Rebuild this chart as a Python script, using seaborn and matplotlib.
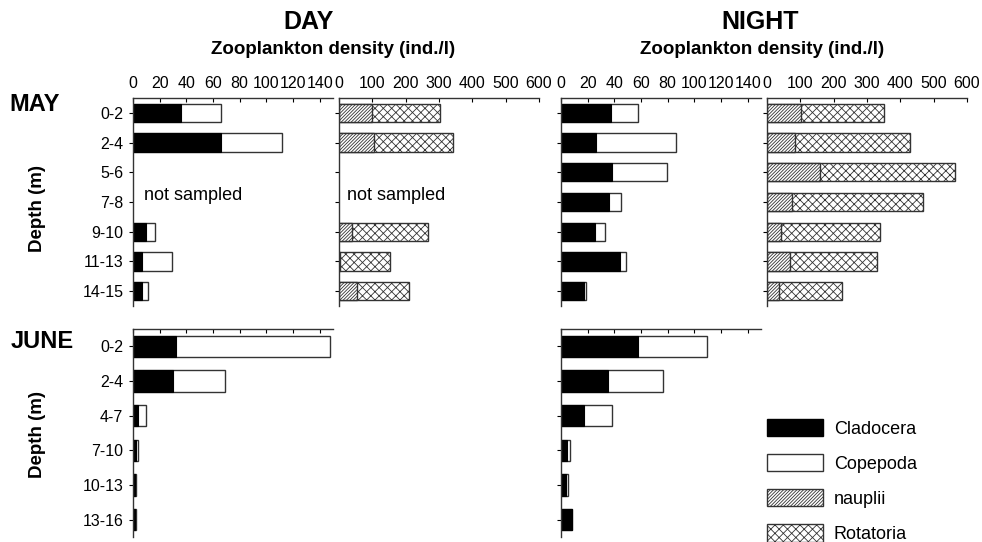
import numpy as np
import pandas as pd
import matplotlib
matplotlib.use("Agg")
import matplotlib.pyplot as plt
from matplotlib.patches import Patch
import seaborn as sns

nan = np.nan

# depth layers
depths_may = ['0-2', '2-4', '5-6', '7-8', '9-10', '11-13', '14-15']
depths_june = ['0-2', '2-4', '4-7', '7-10', '10-13', '13-16']

# MAY, day (5-6 and 7-8 not sampled)
may_day_clad = [36, 66, nan, nan, 9.5, 7, 7]
may_day_cop = [30, 46, nan, nan, 7, 22, 4]
may_day_naup = [100, 106, nan, nan, 40, 2, 55]
may_day_rot = [204, 235, nan, nan, 226, 152, 155]

# MAY, night
may_night_clad = [37.5, 26, 38, 36, 25.5, 44, 17]
may_night_cop = [20.5, 60, 41.5, 9, 7.5, 5, 2]
may_night_naup = [102, 84, 160, 76, 43, 69, 36]
may_night_rot = [250, 346, 405, 393, 297, 262, 190]

# JUNE, crustaceans only
june_day_clad = [32, 30, 3.5, 2, 1.75, 1.75]
june_day_cop = [116, 39, 6.5, 2, 0.3, 0.75]
june_night_clad = [58, 35, 17, 4.5, 4, 8]
june_night_cop = [51.5, 41.5, 21.5, 2, 1.5, 0.5]

crust_ticks = [0, 20, 40, 60, 80, 100, 120, 140]
rot_ticks = [0, 100, 200, 300, 400, 500, 600]

sns.set_style("white")
plt.rcParams['font.family'] = ['Liberation Sans', 'DejaVu Sans']
plt.rcParams['hatch.linewidth'] = 0.6
plt.rcParams['hatch.color'] = '#333333'
plt.rcParams['text.color'] = 'black'
plt.rcParams['axes.labelcolor'] = 'black'
plt.rcParams['xtick.color'] = 'black'
plt.rcParams['ytick.color'] = 'black'

EDGE = '#333333'
clad_style = dict(color='black', edgecolor='black', linewidth=0.8)
cop_style = dict(color='white', edgecolor=EDGE, linewidth=1.0)
naup_style = dict(color='white', edgecolor=EDGE, linewidth=1.0, hatch='//////////')
rot_style = dict(color='white', edgecolor=EDGE, linewidth=1.0, hatch='xxxx')

W, H = 982, 542
fig = plt.figure(figsize=(W / 100, H / 100), dpi=100)


def make_ax(left, top, w=200, h=208):
    return fig.add_axes([left / W, 1 - (top + h) / H, w / W, h / H])


def stacked(ax, cats, first, second, style_first, style_second):
    df = pd.DataFrame({'depth': cats, 'first': first, 'second': second})
    df['total'] = df['first'] + df['second']
    df = df.dropna()
    sns.barplot(data=df, x='total', y='depth', order=cats, orient='h',
                width=0.62, errorbar=None, saturation=1, ax=ax, **style_second)
    sns.barplot(data=df, x='first', y='depth', order=cats, orient='h',
                width=0.62, errorbar=None, saturation=1, ax=ax, **style_first)


def style_axis(ax, xmax, ticks, xlabels, ylabels):
    ax.set_xlim(0, xmax)
    ax.set_xticks(ticks)
    ax.xaxis.tick_top()
    ax.tick_params(axis='x', direction='in', length=3, width=0.8, pad=5,
                   labelsize=11.5, top=True, bottom=False,
                   labeltop=xlabels, labelbottom=False, colors='black')
    ax.tick_params(axis='y', direction='out', length=3, width=0.8, pad=4,
                   labelsize=11.5, left=True, labelleft=ylabels, colors='black')
    ax.spines['right'].set_visible(False)
    ax.spines['bottom'].set_visible(False)
    for s in ['top', 'left']:
        ax.spines[s].set_color(EDGE)
        ax.spines[s].set_linewidth(1.0)
    ax.set_xlabel('')
    ax.set_ylabel('')


# MAY row
ax1 = make_ax(133, 98)
stacked(ax1, depths_may, may_day_clad, may_day_cop, clad_style, cop_style)
style_axis(ax1, 150, crust_ticks, True, True)
ax1.text(8, 2.78, 'not sampled', fontsize=13, va='center')

ax2 = make_ax(339, 98)
stacked(ax2, depths_may, may_day_naup, may_day_rot, naup_style, rot_style)
style_axis(ax2, 600, rot_ticks, True, False)
ax2.text(24, 2.78, 'not sampled', fontsize=13, va='center')

ax3 = make_ax(561, 98)
stacked(ax3, depths_may, may_night_clad, may_night_cop, clad_style, cop_style)
style_axis(ax3, 150, crust_ticks, True, False)

ax4 = make_ax(767, 98)
stacked(ax4, depths_may, may_night_naup, may_night_rot, naup_style, rot_style)
style_axis(ax4, 600, rot_ticks, True, False)

# JUNE row
ax5 = make_ax(133, 329)
stacked(ax5, depths_june, june_day_clad, june_day_cop, clad_style, cop_style)
style_axis(ax5, 150, crust_ticks, False, True)

ax6 = make_ax(561, 329)
stacked(ax6, depths_june, june_night_clad, june_night_cop, clad_style, cop_style)
style_axis(ax6, 150, crust_ticks, False, False)

# titles and labels
fig.text(308.5 / W, 1 - 22 / H, 'DAY', ha='center', va='center', fontsize=18, fontweight='bold')
fig.text(333.5 / W, 1 - 50 / H, 'Zooplankton density (ind./l)', ha='center', va='center',
         fontsize=13.5, fontweight='bold')
fig.text(760 / W, 1 - 22 / H, 'NIGHT', ha='center', va='center', fontsize=18, fontweight='bold')
fig.text(762.5 / W, 1 - 50 / H, 'Zooplankton density (ind./l)', ha='center', va='center',
         fontsize=13.5, fontweight='bold')
fig.text(34.5 / W, 1 - 104 / H, 'MAY', ha='center', va='center', fontsize=17, fontweight='bold')
fig.text(42 / W, 1 - 341 / H, 'JUNE', ha='center', va='center', fontsize=17, fontweight='bold')
fig.text(38 / W, 1 - 209 / H, 'Depth (m)', ha='center', va='center', rotation=90,
         fontsize=13.5, fontweight='bold')
fig.text(37 / W, 1 - 434 / H, 'Depth (m)', ha='center', va='center', rotation=90,
         fontsize=13.5, fontweight='bold')

handles = [
    Patch(facecolor='black', edgecolor='black', label='Cladocera'),
    Patch(facecolor='white', edgecolor=EDGE, label='Copepoda'),
    Patch(facecolor='white', edgecolor=EDGE, hatch='//////////', label='nauplii'),
    Patch(facecolor='white', edgecolor=EDGE, hatch='xxxx', label='Rotatoria'),
]
fig.legend(handles=handles, loc='upper left', bbox_to_anchor=(767 / W, 1 - 419 / H),
           frameon=False, fontsize=13, handlelength=3.1, handleheight=1.1,
           handletextpad=0.6, labelspacing=0.9, borderpad=0, borderaxespad=0)

fig.savefig('out.png', dpi=100)
